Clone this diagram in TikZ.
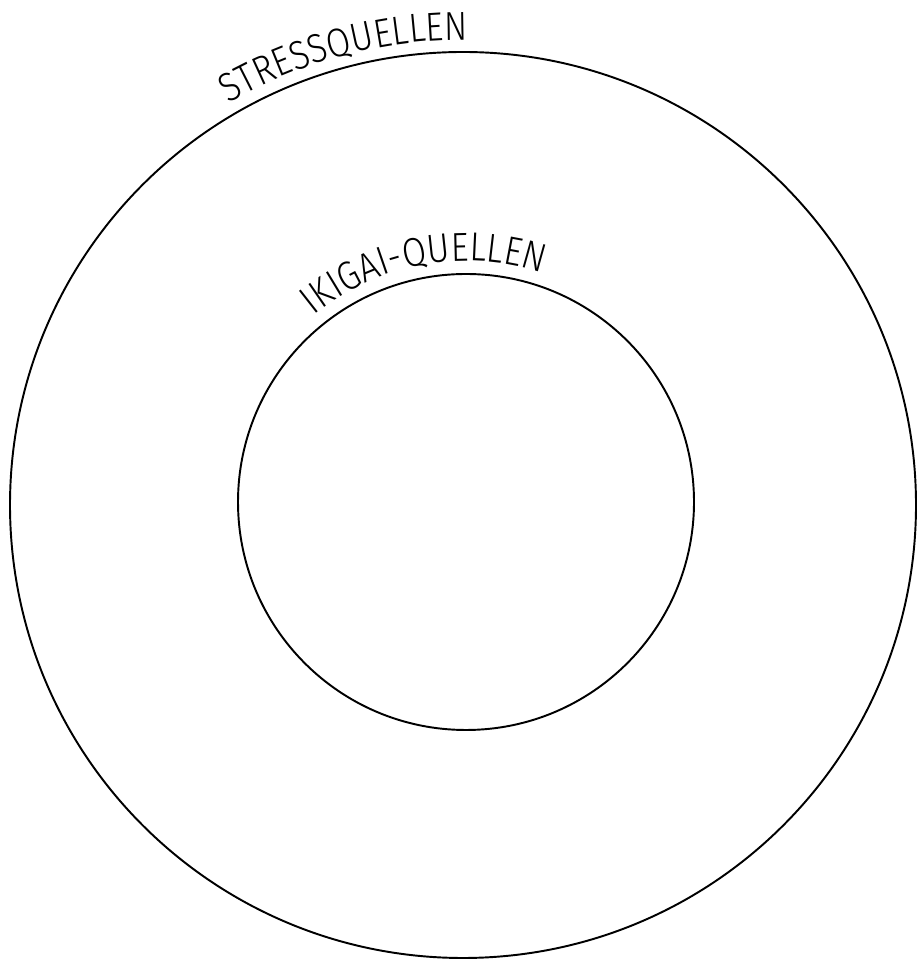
\documentclass[tikz,border=0pt]{standalone}
\usepackage{fontspec}
\newfontfamily\quellfont{Fira Sans Light}[FakeStretch=0.86]
\usetikzlibrary{decorations.text}

\tikzset{
  ring/.style={draw,line width=1.1pt},
  bogentext/.style={decorate,decoration={text along path,text align=center,
    text format delimiters={|}{|},text={#1}}}
}

\begin{document}
\begin{tikzpicture}[x=0.02cm,y=0.02cm]
  \useasboundingbox (0,0) rectangle (917,962);
  \coordinate (aussen) at (463,457);
  \coordinate (innen) at (466,460);
  % Kreise
  \draw[ring] (aussen) circle (453);
  \draw[ring] (innen) circle (228);
  % Beschriftung entlang der Kreise
  \path[bogentext={|\quellfont\fontsize{23}{23}\selectfont|STRESSQUELLEN}]
    (aussen) ++(121.2:465) arc (121.2:88.5:465);
  \path[bogentext={|\quellfont\fontsize{23}{23}\selectfont|IKIGAI-QUELLEN}]
    (innen) ++(133.1:241) arc (133.1:67.7:241);
\end{tikzpicture}
\end{document}
